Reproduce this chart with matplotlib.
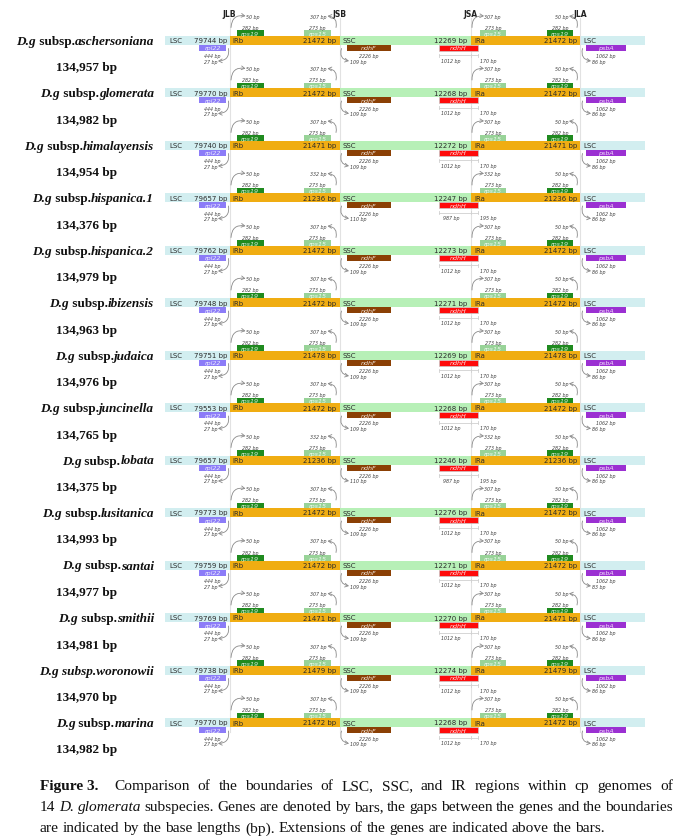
import matplotlib
matplotlib.use('Agg')
import matplotlib.pyplot as plt
import matplotlib.patches as mpatches

# ---- data ----
subspecies = ['aschersoniana', 'glomerata', 'himalayensis', 'hispanica.1', 'hispanica.2',
              'ibizensis', 'judaica', 'juncinella', 'lobata', 'lusitanica', 'santai',
              'smithii', 'woronowii', 'marina']
genome_size = ['134,957', '134,982', '134,954', '134,376', '134,979', '134,963', '134,976',
               '134,765', '134,375', '134,993', '134,977', '134,981', '134,970', '134,982']
lsc_len = [79744, 79770, 79740, 79657, 79762, 79748, 79751, 79553, 79657, 79773, 79759,
           79769, 79738, 79770]
ir_len = [21472, 21472, 21471, 21236, 21472, 21472, 21478, 21472, 21236, 21472, 21472,
          21471, 21479, 21472]
ssc_len = [12269, 12268, 12272, 12247, 12273, 12271, 12269, 12268, 12246, 12276, 12271,
           12270, 12274, 12268]
rps15_ext = [307, 307, 307, 332, 307, 307, 307, 307, 332, 307, 307, 307, 307, 307]
ndhF_gap = [109, 109, 109, 110, 109, 109, 109, 109, 110, 109, 109, 109, 109, 109]
ndhH_in_ssc = [1012, 1012, 1012, 987, 1012, 1012, 1012, 1012, 987, 1012, 1012, 1012, 1012, 1012]
ndhH_in_ira = [170, 170, 170, 195, 170, 170, 170, 170, 195, 170, 170, 170, 170, 170]
psbA_gap = [86, 86, 86, 86, 86, 86, 86, 86, 86, 86, 83, 86, 86, 86]
rps19_ext = 50
rps19_len = 282
rps15_len = 273
rpl22_len = 444
rpl22_gap = 27
ndhF_len = 2226
psbA_len = 1062
junctions = ['JLB', 'JSB', 'JSA', 'JLA']

W, H = 688, 837
fig = plt.figure(figsize=(W / 100, H / 100), dpi=100)
ax = fig.add_axes([0, 0, 1, 1])
ax.set_xlim(0, W)
ax.set_ylim(H, 0)
ax.axis('off')
rend = fig.canvas.get_renderer()

# layout (pixels)
x_lsc0, x_jlb, x_jsb, x_jsa, x_jla, x_lsc1 = 165, 229.5, 339.5, 470.5, 580, 645
row0, dy = 36.5, 52.5
bar_h = 9

c_lsc, c_ir, c_ssc = '#d2eef0', '#f0ad12', '#b7f0b7'
c_rps19, c_rps15, c_rpl22 = '#1f8a1f', '#98d398', '#8c7cf8'
c_ndhF, c_ndhH, c_psbA = '#8b4005', '#ff0a0a', '#9b30d2'
gray = '#8a8a8a'

for x, lab in zip([x_jlb, x_jsb, x_jsa, x_jla], junctions):
    ax.plot([x, x], [19, 733], color='#e2e2e2', lw=0.8, zorder=0)
    ax.text(x, 14, lab, ha='center', va='center', fontsize=5.5, color='#222222',
            fontweight='bold')


def small(x, y, s, ha='center'):
    ax.text(x, y, s, ha=ha, va='center', fontsize=3.4, style='italic', color='#444444', zorder=5)


def arc(p0, p1, rad):
    a = mpatches.FancyArrowPatch(p0, p1, connectionstyle='arc3,rad=%s' % rad,
                                 arrowstyle='->,head_length=1.6,head_width=0.9',
                                 mutation_scale=1.5, color=gray, lw=0.6, zorder=4,
                                 shrinkA=0, shrinkB=0)
    ax.add_patch(a)


def gene(x0, x1, y0, h, color, name, edge='none'):
    ax.add_patch(mpatches.Rectangle((x0, y0), x1 - x0, h, facecolor=color, edgecolor=edge,
                                    lw=0.5, zorder=3))
    ax.text((x0 + x1) / 2, y0 + h / 2 + 0.3, name, ha='center', va='center', fontsize=4.6,
            style='italic', color='white', alpha=0.85, zorder=4)


def bartext(x, y, s, ha):
    ax.text(x, y, s, ha=ha, va='center', fontsize=5, color='#2b2b2b', zorder=4)


def draw_runs(runs, x, y, fs):
    # text pieces side by side, x is the left edge
    for txt, kw in runs:
        t = ax.text(x, y, txt, ha='left', va='center', fontsize=fs, **kw)
        x += t.get_window_extent(rend).width


def measure(runs, fs):
    w = 0
    for txt, kw in runs:
        t = ax.text(0, 0, txt, fontsize=fs, **kw)
        w += t.get_window_extent(rend).width
        t.remove()
    return w


serif = 'Liberation Serif'
bi = dict(family=serif, weight='bold', style='italic', color='#111111')
bu = dict(family=serif, weight='bold', color='#111111')

for i, sp in enumerate(subspecies):
    yb = row0 + dy * i
    yc = yb + bar_h / 2
    # region bars
    for x0, x1, c in [(x_lsc0, x_jlb, c_lsc), (x_jlb, x_jsb, c_ir), (x_jsb, x_jsa, c_ssc),
                      (x_jsa, x_jla, c_ir), (x_jla + 1, x_lsc1, c_lsc)]:
        ax.add_patch(mpatches.Rectangle((x0, yb), x1 - x0, bar_h, facecolor=c,
                                        edgecolor='none', zorder=2))
    bartext(x_lsc0 + 4, yc, 'LSC', 'left')
    bartext(x_jlb - 2.5, yc, '%d bp' % lsc_len[i], 'right')
    bartext(x_jlb + 3, yc, 'IRb', 'left')
    bartext(x_jsb - 3, yc, '%d bp' % ir_len[i], 'right')
    bartext(x_jsb + 3, yc, 'SSC', 'left')
    bartext(x_jsa - 3.5, yc, '%d bp' % ssc_len[i], 'right')
    bartext(x_jsa + 3.5, yc, 'IRa', 'left')
    bartext(x_jla - 2.5, yc, '%d bp' % ir_len[i], 'right')
    bartext(x_jla + 3.5, yc, 'LSC', 'left')

    # genes above the bar
    gh = 5.5
    gene(237, 263.5, yb - gh, gh, c_rps19, 'rps19')
    gene(304, 331, yb - gh, gh, c_rps15, 'rps15')
    gene(480, 506, yb - gh, gh, c_rps15, 'rps15')
    gene(547, 573, yb - gh, gh, c_rps19, 'rps19')
    small(250, yb - 8.3, '%d bp' % rps19_len)
    small(317.5, yb - 8.3, '%d bp' % rps15_len)
    small(493, yb - 8.3, '%d bp' % rps15_len)
    small(560, yb - 8.3, '%d bp' % rps19_len)
    small(246, yb - 19.5, '%d bp' % rps19_ext, 'left')
    arc((x_jlb + 1.5, yb - 8), (245.5, yb - 19.5), -0.55)
    small(327, yb - 19.5, '%d bp' % rps15_ext[i], 'right')
    arc((x_jsb - 3.5, yb - 8), (327.5, yb - 19.5), 0.55)
    small(484.5, yb - 19.5, '%d bp' % rps15_ext[i], 'left')
    arc((x_jsa + 1.5, yb - 8), (484, yb - 19.5), -0.55)
    small(568.5, yb - 19.5, '%d bp' % rps19_ext, 'right')
    arc((x_jla - 3, yb - 8), (569, yb - 19.5), 0.55)

    # genes below the bar
    gene(199, 226, yb + bar_h, gh + 0.5, c_rpl22, 'rpl22')
    gene(347, 391, yb + bar_h, gh + 0.5, c_ndhF, 'ndhF')
    gene(439, 478, yb + bar_h, gh + 0.5, c_ndhH, 'ndhH', edge='#c8c8c8')
    gene(586, 626, yb + bar_h, gh + 0.5, c_psbA, 'psbA')
    small(212.5, yb + 20, '%d bp' % rpl22_len)
    small(217.5, yb + 25.5, '%d bp' % rpl22_gap, 'right')
    arc((x_jlb - 1, yb + 13), (218, yb + 25.5), -0.55)
    small(349.5, yb + 25.5, '%d bp' % ndhF_gap[i], 'left')
    small(369, yb + 20, '%d bp' % ndhF_len)
    arc((x_jsb + 2, yb + 13), (349, yb + 25.5), 0.55)
    small(606, yb + 20, '%d bp' % psbA_len)
    small(591.5, yb + 25.5, '%d bp' % psbA_gap[i], 'left')
    arc((x_jla + 2.5, yb + 13), (591, yb + 25.5), 0.55)
    # ndhH dimension line
    yd = yb + 19.5
    ax.plot([439, 478], [yd, yd], color='#d0d0d0', lw=0.6, zorder=3)
    for xt in (439, x_jsa, 478):
        ax.plot([xt, xt], [yd - 1.5, yd + 1.5], color='#d0d0d0', lw=0.6, zorder=3)
    small(451, yb + 24.5, '%d bp' % ndhH_in_ssc[i])
    small(480.5, yb + 24.5, '%d bp' % ndhH_in_ira[i], 'left')

    # species name and genome size
    if sp == 'woronowii':
        runs = [('D.g subsp.' + sp, bi)]
    else:
        runs = [('D.g', bi), (' subsp.', bu), (sp, bi)]
    fs = 9.5
    w = measure(runs, fs)
    draw_runs(runs, 154 - w, yc + 0.5, fs)
    ax.text(87, yc + 27, genome_size[i] + ' bp', ha='center', va='center', fontsize=fs,
            **bu)

# ---- caption, justified like the journal layout ----
cap_fs = 11.1
cf = dict(family=serif, color='#111111')
cfb = dict(family=serif, color='#111111', weight='bold')
cfi = dict(family=serif, color='#111111', style='italic')
line1 = [('Figure 3.', cfb)] + [(w_, cf) for w_ in
         'Comparison of the boundaries of LSC, SSC, and IR regions within cp genomes of'.split()]
line2 = [('14', cf), ('D.', cfi), ('glomerata', cfi)] + [(w_, cf) for w_ in
         'subspecies. Genes are denoted by bars, the gaps between the genes and the boundaries'.split()]
line3 = [(w_, cf) for w_ in
         'are indicated by the base lengths (bp). Extensions of the genes are indicated above the bars.'.split()]

cx0, cx1 = 40, 673
sp_w = measure([('a a', cf)], cap_fs) - measure([('aa', cf)], cap_fs)
for words, y, just in [(line1, 787, True), (line2, 808, True), (line3, 829, False)]:
    ts = [ax.text(0, y, s, fontsize=cap_fs, ha='left', va='center', **kw) for s, kw in words]
    ws = [t.get_window_extent(rend).width for t in ts]
    gaps = [sp_w] * (len(ws) - 1)
    if words is line1:
        gaps[0] = 3 * sp_w
    if just:
        extra = (cx1 - cx0 - sum(ws) - sum(gaps)) / len(gaps)
        gaps = [g + extra for g in gaps]
    x = cx0
    for k, t in enumerate(ts):
        t.set_x(x)
        if k < len(gaps):
            x += ws[k] + gaps[k]

fig.savefig('out.png', dpi=100)
